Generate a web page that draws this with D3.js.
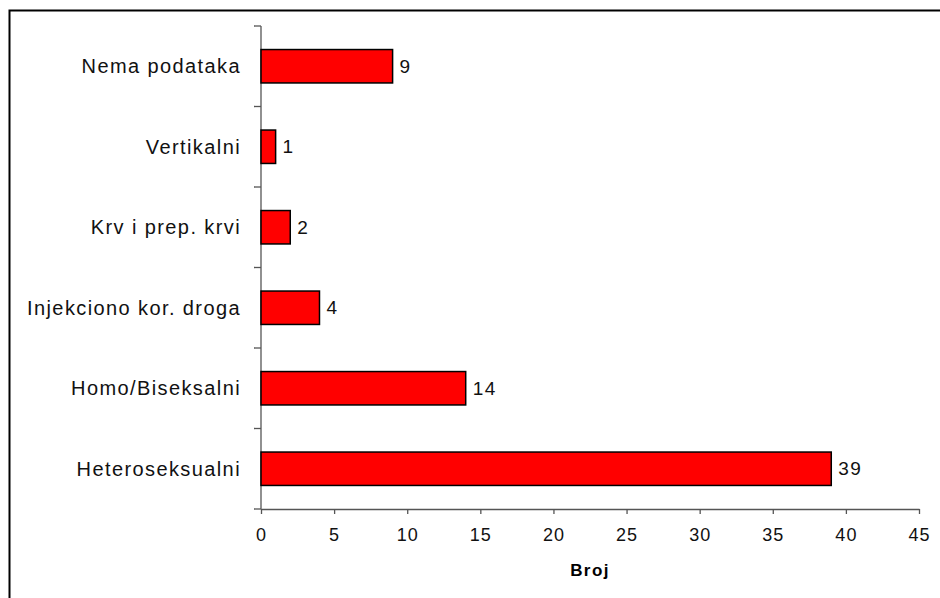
<!DOCTYPE html>
<html>
<head>
<meta charset="utf-8">
<script src="https://cdn.jsdelivr.net/npm/d3@7"></script>
<style>
  body { margin: 0; background: #fff; }
  svg { display: block; font-family: "Liberation Sans", Arial, sans-serif; }
</style>
</head>
<body>
<script>
// categories, bottom to top as in the picture
const categories = ["Heteroseksualni", "Homo/Biseksalni", "Injekciono kor. droga", "Krv i prep. krvi", "Vertikalni", "Nema podataka"];
const values = [39, 14, 4, 2, 1, 9];
const xTicks = [0, 5, 10, 15, 20, 25, 30, 35, 40, 45];
const xTitle = "Broj";

const w = 940;
const h = 598;
const margin = { top: 26, right: 21, bottom: 89, left: 261 };
const innerWidth = w - margin.left - margin.right;
const innerHeight = h - margin.top - margin.bottom;

const svg = d3.select("body")
    .append("svg")
    .attr("width", w)
    .attr("height", h);

// outer frame (only top and left edges are inside the picture)
svg.append("path")
    .attr("d", `M9.5,${h}V10.5H${w}`)
    .attr("fill", "none")
    .attr("stroke", "#000")
    .attr("stroke-width", 2);

const g = svg.append("g")
    .attr("transform", `translate(${margin.left},${margin.top})`);

// x scale
const xScale = d3.scaleLinear()
    .domain([0, 45])
    .range([0, innerWidth]);

// y scale, first category at the bottom
const yScale = d3.scaleBand()
    .domain(categories)
    .range([innerHeight, 0])
    .paddingInner(0.585)
    .paddingOuter(0.2925);

// x axis
const xAxisG = g.append("g")
    .attr("transform", `translate(0,${innerHeight})`)
    .call(d3.axisBottom(xScale).tickValues(xTicks).tickSize(5).tickSizeOuter(0).tickPadding(14));
xAxisG.select(".domain").attr("stroke", "#555").attr("stroke-width", 1.3);
xAxisG.selectAll(".tick line").attr("stroke", "#555").attr("stroke-width", 1.3);
xAxisG.selectAll("text")
    .attr("font-size", 18)
    .attr("letter-spacing", 1)
    .attr("font-family", "Liberation Sans, Arial, sans-serif")
    .attr("fill", "#111");

// y axis: ticks sit on the category boundaries
const bandStep = innerHeight / categories.length;
const yAxisG = g.append("g");
yAxisG.append("line")
    .attr("x1", 0).attr("x2", 0)
    .attr("y1", 0).attr("y2", innerHeight)
    .attr("stroke", "#555").attr("stroke-width", 1.3);
yAxisG.selectAll(".ytick")
    .data(d3.range(categories.length + 1))
    .enter()
    .append("line")
    .attr("class", "ytick")
    .attr("x1", -7).attr("x2", 0)
    .attr("y1", i => i * bandStep)
    .attr("y2", i => i * bandStep)
    .attr("stroke", "#555").attr("stroke-width", 1.3);

// category labels
g.selectAll(".cat")
    .data(categories)
    .enter()
    .append("text")
    .attr("class", "cat")
    .attr("x", -20)
    .attr("y", d => yScale(d) + yScale.bandwidth() / 2)
    .attr("dy", "0.35em")
    .attr("text-anchor", "end")
    .attr("font-size", 20)
    .attr("letter-spacing", 1.4)
    .attr("fill", "#111")
    .text(d => d);

// bars
g.selectAll(".bar")
    .data(values)
    .enter()
    .append("rect")
    .attr("class", "bar")
    .attr("x", 0)
    .attr("y", (d, i) => yScale(categories[i]))
    .attr("width", d => xScale(d))
    .attr("height", yScale.bandwidth())
    .attr("fill", "#ff0000")
    .attr("stroke", "#000")
    .attr("stroke-width", 1.5);

// value labels
g.selectAll(".val")
    .data(values)
    .enter()
    .append("text")
    .attr("class", "val")
    .attr("x", d => xScale(d) + 7)
    .attr("y", (d, i) => yScale(categories[i]) + yScale.bandwidth() / 2)
    .attr("dy", "0.35em")
    .attr("font-size", 19)
    .attr("letter-spacing", 1.5)
    .attr("fill", "#111")
    .text(d => d);

// axis title
g.append("text")
    .attr("x", innerWidth / 2)
    .attr("y", innerHeight + 67)
    .attr("text-anchor", "middle")
    .attr("font-size", 17)
    .attr("font-weight", "bold")
    .attr("letter-spacing", 1.4)
    .attr("fill", "#000")
    .text(xTitle);
</script>
</body>
</html>
